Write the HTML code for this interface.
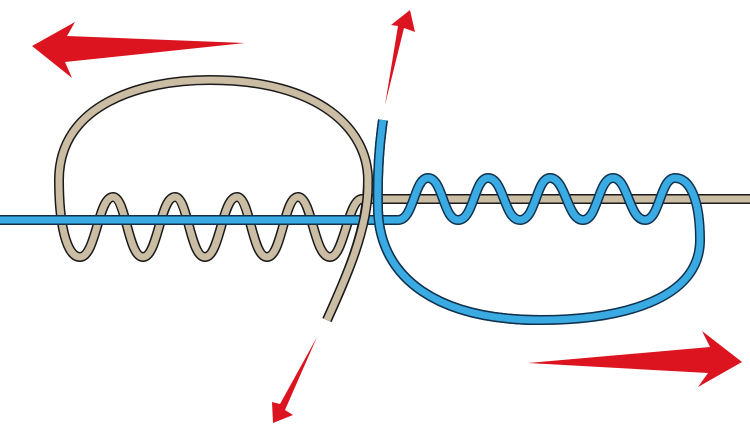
<!DOCTYPE html>
<html><head><meta charset="utf-8"><style>html,body{margin:0;padding:0;background:#fff}svg{display:block}</style></head>
<body>
<svg width="750" height="447" viewBox="0 0 750 447" xmlns="http://www.w3.org/2000/svg">
<defs>
<path id="tan" d="M750,199 L362,199 C348,199 344,257 330,257 C314,257 312,197 298,197 C284,197 282,257 267,257 C252,257 250,197 237,197 C222,197 220,257 205,257 C190,257 188,197 175,197 C160,197 158,257 143,257 C128,257 126,197 113,197 C98,197 96,257 80,257 C66,257 59,222 59,180 C59,105 140,80 210,80 C320,80 368,130 368,180 C368,230 345,280 327,320"/>
<path id="tail" d="M368,185 C368,230 345,280 327,320"/>
<path id="blue" d="M0,220 L398,220 C414,220 414,178 428,178 C443,178 443,220 458,220 C474,220 474,178 488,178 C504,178 504,220 520,220 C536,220 536,178 550,178 C566,178 567,220 583,220 C598,220 598,178 613,178 C628,178 629,220 645,220 C660,220 660,178 675,178 C690,178 700,200 700,240 C700,300 620,320 540,320 C440,320 380,280 378,210 C377,170 380,140 383,120"/>
<path id="bv" d="M540,320 C440,320 380,280 378,210 C377,170 380,140 383,120"/>
</defs>
<use href="#tan" fill="none" stroke="#1a1a1a" stroke-width="10"/>
<use href="#tan" fill="none" stroke="#cbbca4" stroke-width="7"/>
<use href="#blue" fill="none" stroke="#10324f" stroke-width="10"/>
<use href="#blue" fill="none" stroke="#3aaae2" stroke-width="7"/>
<use href="#tail" fill="none" stroke="#1a1a1a" stroke-width="10"/>
<use href="#tail" fill="none" stroke="#cbbca4" stroke-width="7"/>
<use href="#bv" fill="none" stroke="#10324f" stroke-width="10"/>
<use href="#bv" fill="none" stroke="#3aaae2" stroke-width="7"/>
<g fill="#dc1420">
<polygon points="32,46 75,22 67,36 245,43 65,62 72,78"/>
<polygon points="410,10 415,32 404,28 385,105 398,26 391,25"/>
<polygon points="742,362 702,331 710,347 528,363 708,373 698,387"/>
<polygon points="273,423 272,402 280,404 317,337 285,410 293,415"/>
</g>
</svg>
</body></html>
